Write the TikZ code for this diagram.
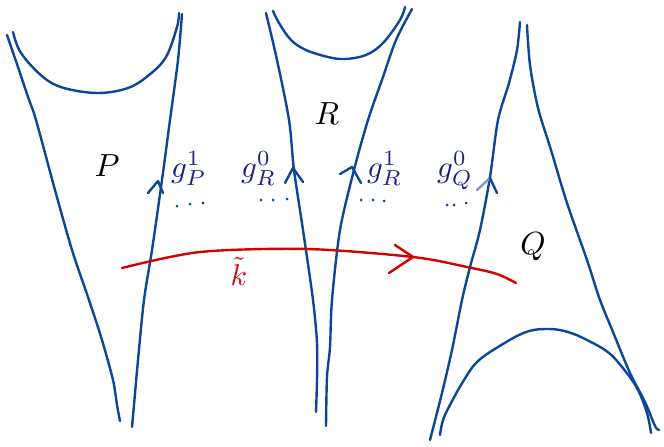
\documentclass[tikz,border=0pt]{standalone}
\usepackage{graphicx}
\begin{document}
\begin{tikzpicture}[x=1pt,y=-1pt]
\definecolor{lineblue}{RGB}{12,70,152}
\definecolor{labelblue}{RGB}{28,32,128}
\definecolor{kred}{RGB}{214,0,0}
\tikzset{
  edge/.style={draw=lineblue,line width=2.4pt,line cap=round,line join=round},
  chev/.style={draw=lineblue,line width=2.4pt,line cap=round,line join=round},
  redline/.style={draw=kred,line width=2.4pt,line cap=round,line join=round},
  piecelabel/.style={text=black,inner sep=0pt,anchor=base},
  glabel/.style={text=labelblue,inner sep=0pt,anchor=base west},
  dot/.style={fill=lineblue,circle,inner sep=0pt,minimum size=3pt}
}
\useasboundingbox (0,0) rectangle (664,447);
% piece P
\draw[edge] plot[smooth,tension=0.5] coordinates {(7,35) (19,70) (28,97) (36,120) (55,190) (72,250) (89,300) (102,340) (113,380) (117,405) (120,421)};
\draw[edge] plot[smooth,tension=0.6] coordinates {(13,32) (21,53) (43,77) (64,88) (98,93) (128,88) (149,75) (166,57) (177,27) (179,13)};
\draw[edge] plot[smooth,tension=0.5] coordinates {(182,14) (178,60) (170,120) (162,180) (152,250) (144,300) (138,360) (134,405) (132,427)};
% piece R
\draw[edge] plot[smooth,tension=0.5] coordinates {(266,13) (277,60) (289,120) (294,170) (303,230) (313,300) (317,343) (317,380) (316,412)};
\draw[edge] plot[smooth,tension=0.6] coordinates {(273,11) (279,23) (291,40) (306,50) (328,57) (345,59) (366,55) (383,43) (400,20) (405,7)};
\draw[edge] plot[smooth,tension=0.5] coordinates {(412,9) (396,40) (383,77) (368,120) (354,170) (340,230) (332,300) (330,347) (327,377) (326,426)};
% piece Q
\draw[edge] plot[smooth,tension=0.5] coordinates {(520,22) (517,50) (509,83) (498,120) (490,177) (480,230) (470,267) (462,300) (452,350) (442,393) (430,440)};
\draw[edge] plot[smooth,tension=0.5] coordinates {(527,25) (530,65) (538,108) (551,150) (567,203) (587,260) (600,300) (613,332) (630,373) (645,402) (655,426) (659,430)};
\draw[edge] plot[smooth,tension=0.6] coordinates {(440,435) (443,420) (451,403) (464,380) (477,362) (498,347) (526,332) (549,329) (568,332) (587,340) (609,353) (626,372) (638,390) (647,413) (651,433)};
% orientation chevrons
\draw[chev] (148,193) -- (158,181) -- (163,193);
\draw[chev] (285,183) -- (293,168) -- (303,182);
\draw[chev] (340,174) -- (352,167) -- (361,183);
\draw[chev,draw=lineblue!55] (477,190) -- (490,178);
\draw[chev] (490,178) -- (497,193);
% red path
\draw[redline] plot[smooth,tension=0.5] coordinates {(122,268) (200,252) (307,249) (413,257) (467,267) (497,274) (516,283)};
\draw[redline] (395,245) -- (413,257) -- (389,273);
% labels
\node[piecelabel] (P) at (107,176) {\scalebox{3.2}{$P$}};
\node[piecelabel] (R) at (327,124) {\scalebox{3.2}{$R$}};
\node[piecelabel] (Q) at (533,254) {\scalebox{3.2}{$Q$}};
\node[glabel] (gP1) at (171,177) {\scalebox{3.1}{$g_P^1$}};
\node[glabel] (gR0) at (241,177) {\scalebox{3.1}{$g_R^0$}};
\node[glabel] (gR1) at (367,177) {\scalebox{3.1}{$g_R^1$}};
\node[glabel] (gQ0) at (437,177) {\scalebox{3.1}{$g_Q^0$}};
\node[text=kred,inner sep=0pt,anchor=base] (k) at (239,285) {\scalebox{3}{$\tilde{k}$}};
% dots
\foreach \x/\y [count=\i] in {177/206,190/204,203/203,261/200,273/200,287/199,361/200,373/200,384/201,447/205,454/205,466/203}
  \node[dot] (d\i) at (\x,\y) {};
\end{tikzpicture}
\end{document}
